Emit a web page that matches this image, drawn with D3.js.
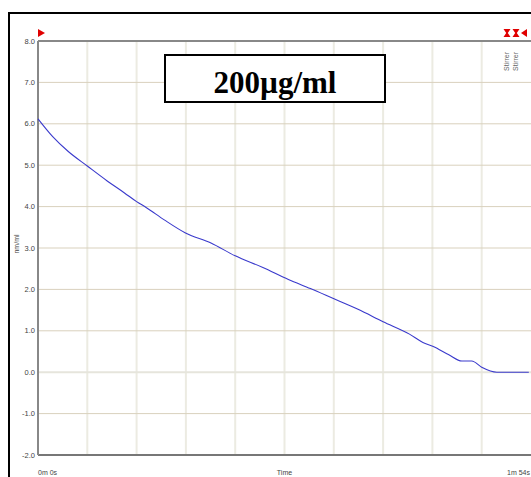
<!DOCTYPE html>
<html>
<head>
<meta charset="utf-8">
<script src="https://cdn.jsdelivr.net/npm/d3@7"></script>
<style>
  body { margin: 0; background: #fff; overflow: hidden; }
  svg { display: block; font-family: Arial, "Liberation Sans", sans-serif; }
</style>
</head>
<body>
<div id="chart"></div>
<script>
// concentration trace (seconds, nm/ml)
var times = [0, 3.4, 7, 11.4, 16, 20, 22.8, 25, 29.2, 34, 40, 45.6, 52, 57.9, 63, 68.7, 74, 79.8, 85.9, 89, 91.4, 95, 98, 100.3, 102.6, 106.1, 113.5];
var values = [6.12, 5.69, 5.33, 4.98, 4.62, 4.33, 4.12, 3.98, 3.68, 3.37, 3.12, 2.81, 2.53, 2.24, 2.02, 1.76, 1.52, 1.22, 0.92, 0.72, 0.62, 0.42, 0.27, 0.27, 0.12, 0.0, 0.0];
var yTicks = [-2, -1, 0, 1, 2, 3, 4, 5, 6, 7, 8];
var xGrid = [11.4, 22.8, 34.2, 45.6, 57, 68.4, 79.8, 91.2, 102.6];
var xTickLabels = ["0m 0s", "1m 54s"];
var title = "200\u00b5g/ml";

var W = 531, H = 477;
var plot = { left: 38, top: 41, right: 531, bottom: 455 };

var svg = d3.select("#chart").append("svg")
  .attr("width", W)
  .attr("height", H);

var x = d3.scaleLinear().domain([0, 114]).range([plot.left, plot.right]);
var y = d3.scaleLinear().domain([-2, 8]).range([plot.bottom, plot.top]);

// outer frame (only left and top edges fall inside the picture)
svg.append("path")
  .attr("d", "M9," + H + " L9,13 L" + W + ",13")
  .attr("fill", "none")
  .attr("stroke", "#000")
  .attr("stroke-width", 2);

// vertical grid
svg.append("g").selectAll("line")
  .data(xGrid)
  .enter().append("line")
  .attr("x1", d => x(d)).attr("x2", d => x(d))
  .attr("y1", plot.top).attr("y2", plot.bottom)
  .attr("stroke", "#ecebe2")
  .attr("stroke-width", 2);

// horizontal grid
svg.append("g").selectAll("line")
  .data(yTicks.filter(d => d > -2 && d < 8))
  .enter().append("line")
  .attr("x1", plot.left).attr("x2", plot.right)
  .attr("y1", d => y(d)).attr("y2", d => y(d))
  .attr("stroke", d => d === 0 ? "#e6e5dc" : "#d9d1bd")
  .attr("stroke-width", d => d === 0 ? 2 : 1);

// axes lines
svg.append("line").attr("x1", plot.left).attr("x2", plot.right).attr("y1", plot.top).attr("y2", plot.top)
  .attr("stroke", "#888").attr("stroke-width", 2);
svg.append("line").attr("x1", plot.left).attr("x2", plot.right).attr("y1", plot.bottom).attr("y2", plot.bottom)
  .attr("stroke", "#777").attr("stroke-width", 2);
svg.append("line").attr("x1", plot.left).attr("x2", plot.left).attr("y1", plot.top).attr("y2", plot.bottom)
  .attr("stroke", "#888").attr("stroke-width", 2);

// y tick labels
svg.append("g").selectAll("text")
  .data(yTicks)
  .enter().append("text")
  .attr("x", plot.left - 3)
  .attr("y", d => y(d) + 2.5)
  .attr("text-anchor", "end")
  .attr("font-size", 7.5)
  .attr("fill", "#444")
  .text(d => d3.format(".1f")(d).replace("\u2212", "-"));

svg.append("text")
  .attr("transform", "translate(19," + (y(3) - 4) + ") rotate(-90)")
  .attr("text-anchor", "middle")
  .attr("font-size", 7)
  .attr("fill", "#444")
  .text("nm/ml");

// x labels
svg.append("text").attr("x", plot.left).attr("y", 475)
  .attr("font-size", 7).attr("fill", "#444").text(xTickLabels[0]);
svg.append("text").attr("x", plot.right - 1).attr("y", 475)
  .attr("text-anchor", "end")
  .attr("font-size", 7).attr("fill", "#444").text(xTickLabels[1]);
svg.append("text").attr("x", x(57)).attr("y", 475)
  .attr("text-anchor", "middle")
  .attr("font-size", 7).attr("fill", "#444").text("Time");

// data line
var pts = times.map((t, i) => [t, values[i]]);
var line = d3.line()
  .curve(d3.curveMonotoneX)
  .x(d => x(d[0]))
  .y(d => y(d[1]));
svg.append("path")
  .datum(pts)
  .attr("d", line)
  .attr("fill", "none")
  .attr("stroke", "#3a3acc")
  .attr("stroke-width", 1.1);

// red markers
svg.append("path")
  .attr("d", "M38,29 L45,33 L38,37 Z")
  .attr("fill", "#e00000");
[507, 516].forEach(function (cx) {
  svg.append("path")
    .attr("d", "M" + (cx - 3.5) + ",29 L" + (cx + 3.5) + ",29 L" + (cx + 0.8) + ",33 L" + (cx + 3.5) + ",37 L" + (cx - 3.5) + ",37 L" + (cx - 0.8) + ",33 Z")
    .attr("fill", "#e00000");
  svg.append("text")
    .attr("transform", "translate(" + (cx + 2) + ",71) rotate(-90)")
    .attr("font-size", 7)
    .attr("fill", "#666")
    .text("Stirrer");
});
svg.append("path")
  .attr("d", "M527,29 L521,33 L527,37 Z")
  .attr("fill", "#e00000");

// title box
svg.append("rect")
  .attr("x", 165).attr("y", 55)
  .attr("width", 220).attr("height", 47)
  .attr("fill", "#fff")
  .attr("stroke", "#000")
  .attr("stroke-width", 2);
svg.append("text")
  .attr("x", 275).attr("y", 93)
  .attr("text-anchor", "middle")
  .attr("font-family", "'Liberation Serif', 'Times New Roman', serif")
  .attr("font-weight", "bold")
  .attr("font-size", 31)
  .attr("fill", "#000")
  .text(title);
</script>
</body>
</html>
